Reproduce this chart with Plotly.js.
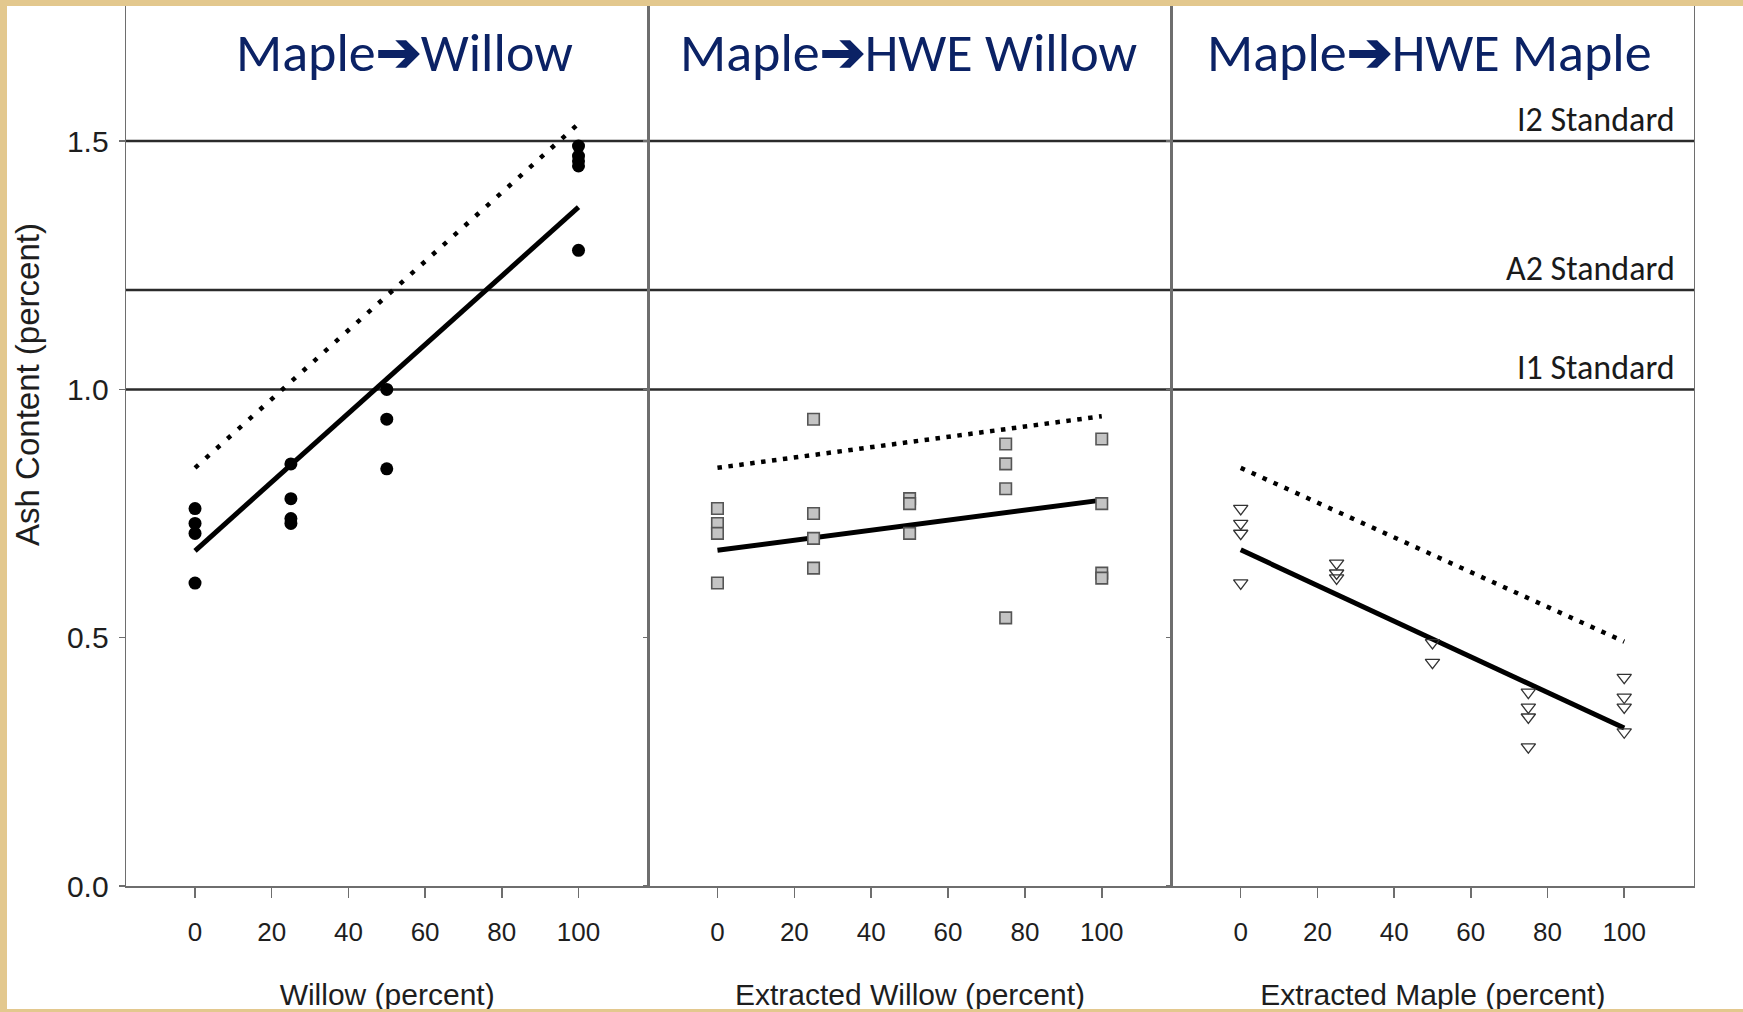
<!DOCTYPE html>
<html>
<head>
<meta charset="utf-8">
<script src="https://cdn.plot.ly/plotly-3.0.1.min.js"></script>
<style>
  html, body { margin: 0; padding: 0; width: 1743px; height: 1012px; overflow: hidden; background: #e3c88e; }
  #plot { position: absolute; left: 7px; top: 6px; width: 1736px; height: 1006px; }
  #bottomStrip { position: absolute; left: 0; top: 1009px; width: 1743px; height: 3px; background: #e3c88e; }
</style>
</head>
<body>
<div id="plot"></div>
<div id="bottomStrip"></div>
<script>
// ---- Data ----
const panelTitles = ["Maple\u2794Willow", "Maple\u2794HWE Willow", "Maple\u2794HWE Maple"];
const xAxisTitles = ["Willow (percent)", "Extracted Willow (percent)", "Extracted Maple (percent)"];
const yAxisTitle = "Ash Content (percent)";

const xTickVals = [0, 20, 40, 60, 80, 100];
const yTickVals = [0, 0.5, 1.0, 1.5];
const yTickText = ["0.0", "0.5", "1.0", "1.5"];

// Panel 1: Maple -> Willow (filled circles)
const willowX = [0, 0, 0, 0, 25, 25, 25, 25, 50, 50, 50, 100, 100, 100, 100, 100];
const willowY = [0.76, 0.73, 0.71, 0.61, 0.85, 0.78, 0.74, 0.73, 1.00, 0.94, 0.84, 1.49, 1.47, 1.46, 1.45, 1.28];

// Panel 2: Maple -> HWE Willow (grey squares)
const hweWillowX = [0, 0, 0, 0, 25, 25, 25, 25, 50, 50, 50, 75, 75, 75, 75, 100, 100, 100, 100];
const hweWillowY = [0.76, 0.73, 0.71, 0.61, 0.94, 0.75, 0.70, 0.64, 0.78, 0.77, 0.71, 0.89, 0.85, 0.80, 0.54, 0.90, 0.77, 0.63, 0.62];

// Panel 3: Maple -> HWE Maple (open down-triangles)
const hweMapleX = [0, 0, 0, 0, 25, 25, 25, 50, 50, 75, 75, 75, 75, 100, 100, 100, 100];
const hweMapleY = [0.76, 0.73, 0.71, 0.61, 0.65, 0.63, 0.62, 0.49, 0.45, 0.39, 0.36, 0.34, 0.28, 0.42, 0.38, 0.36, 0.31];

// Regression lines (solid) and upper bound lines (dotted), at x = 0 and 100
const fitX = [0, 100];
const willowFit = [0.675, 1.367];
const willowUpper = [0.842, 1.535];
const hweWillowFit = [0.676, 0.777];
const hweWillowUpper = [0.842, 0.946];
const hweMapleFit = [0.677, 0.318];
const hweMapleUpper = [0.842, 0.492];

// Standards
const standardValues = [1.5, 1.2, 1.0];
const standardLabels = ["I2 Standard", "A2 Standard", "I1 Standard"];

// ---- Chart ----
const arial = "Arial, 'Liberation Sans', sans-serif";
const calibriLike = "Carlito, Calibri, Lato, 'Noto Sans', sans-serif";
const tickFont = {family: arial, size: 26, color: "#1e1e1e"};
const navy = "#0b2265";
const axisGray = "#6e6e6e";

function scatter(x, y, ax, marker) {
  return {x: x, y: y, xaxis: ax[0], yaxis: ax[1], type: "scatter", mode: "markers", marker: marker, showlegend: false, hoverinfo: "skip"};
}
function line(x, y, ax, dash, width) {
  return {x: x, y: y, xaxis: ax[0], yaxis: ax[1], type: "scatter", mode: "lines",
          line: {color: "#000000", width: width, dash: dash}, showlegend: false, hoverinfo: "skip"};
}

const axes = [["x", "y"], ["x2", "y2"], ["x3", "y3"]];

const traces = [
  line(fitX, willowFit, axes[0], "solid", 5),
  line(fitX, willowUpper, axes[0], "4.5px,10px", 4.5),
  scatter(willowX, willowY, axes[0], {symbol: "circle", size: 13, color: "#000000"}),
  line(fitX, hweWillowFit, axes[1], "solid", 5),
  line(fitX, hweWillowUpper, axes[1], "4.5px,6.5px", 4.5),
  scatter(hweWillowX, hweWillowY, axes[1], {symbol: "square", size: 11.5, color: "#c4c4c4", line: {color: "#555555", width: 1.6}}),
  line(fitX, hweMapleFit, axes[2], "solid", 5),
  line(fitX, hweMapleUpper, axes[2], "4.5px,7.5px", 4.5),
  scatter(hweMapleX, hweMapleY, axes[2], {symbol: "triangle-down-open", size: 12.5, color: "#333333", line: {width: 1.3}})
];

const domains = [[0, 0.3331], [0.3331, 0.6669], [0.6669, 1]];
const xRange = [-18, 118.2];
const yRange = [0, 1.772];

function xAxis(i) {
  return {
    domain: domains[i], range: xRange, anchor: axes[i][1],
    tickvals: xTickVals, ticks: "outside", ticklen: 10, tickwidth: 1.5, tickcolor: axisGray,
    ticklabelstandoff: 12,
    tickfont: tickFont, showgrid: false, zeroline: false,
    showline: true, linecolor: axisGray, linewidth: 1.8,
    title: {text: xAxisTitles[i], font: {family: arial, size: 30, color: "#1e1e1e"}, standoff: 38}
  };
}
function yAxis(i) {
  return {
    domain: [0, 1], range: yRange, anchor: axes[i][0],
    tickvals: yTickVals, ticktext: yTickText, ticks: "outside", ticklen: i === 0 ? 6 : 4,
    tickwidth: 1.5, tickcolor: axisGray,
    showticklabels: i === 0, tickfont: {family: arial, size: 30, color: "#1e1e1e"},
    ticklabelstandoff: 4,
    showgrid: false, zeroline: false, showline: true, mirror: true, linecolor: axisGray, linewidth: 1.4
  };
}

const shapes = standardValues.map(v => ({
  type: "line", xref: "paper", x0: 0, x1: 1, yref: "y", y0: v, y1: v,
  line: {color: "#2b2b2b", width: 2.5}, layer: "below"
}));

const titleX = [54.5, 49.6, 49.1];
const annotations = [];
panelTitles.forEach((t, i) => {
  annotations.push({
    text: t.replace("\u2794", "<b>\u2794</b>"), xref: axes[i][0], yref: axes[i][1], x: titleX[i], y: 1.677,
    xanchor: "center", yanchor: "middle", showarrow: false,
    font: {family: calibriLike, size: 54, color: navy}
  });
});
standardLabels.forEach((t, i) => {
  annotations.push({
    text: t, xref: "x3", yref: "y3", x: 113.5, y: standardValues[i],
    xanchor: "right", yanchor: "bottom", showarrow: false, borderpad: 0,
    font: {family: calibriLike, size: 34, color: "#1a1a1a"}
  });
});
// y axis title
annotations.push({
  text: yAxisTitle, xref: "paper", yref: "y", x: 0, y: 1.009, xshift: -98,
  xanchor: "center", yanchor: "middle", textangle: -90, showarrow: false,
  font: {family: arial, size: 33, color: "#1e1e1e"}
});

const layout = {
  width: 1736, height: 1006,
  margin: {l: 119, r: 49, t: 0, b: 126, pad: 0},
  paper_bgcolor: "#ffffff", plot_bgcolor: "#ffffff",
  showlegend: false,
  xaxis: xAxis(0), xaxis2: xAxis(1), xaxis3: xAxis(2),
  yaxis: yAxis(0), yaxis2: yAxis(1), yaxis3: yAxis(2),
  shapes: shapes, annotations: annotations
};

Plotly.newPlot("plot", traces, layout, {displayModeBar: false, staticPlot: true});
</script>
</body>
</html>
